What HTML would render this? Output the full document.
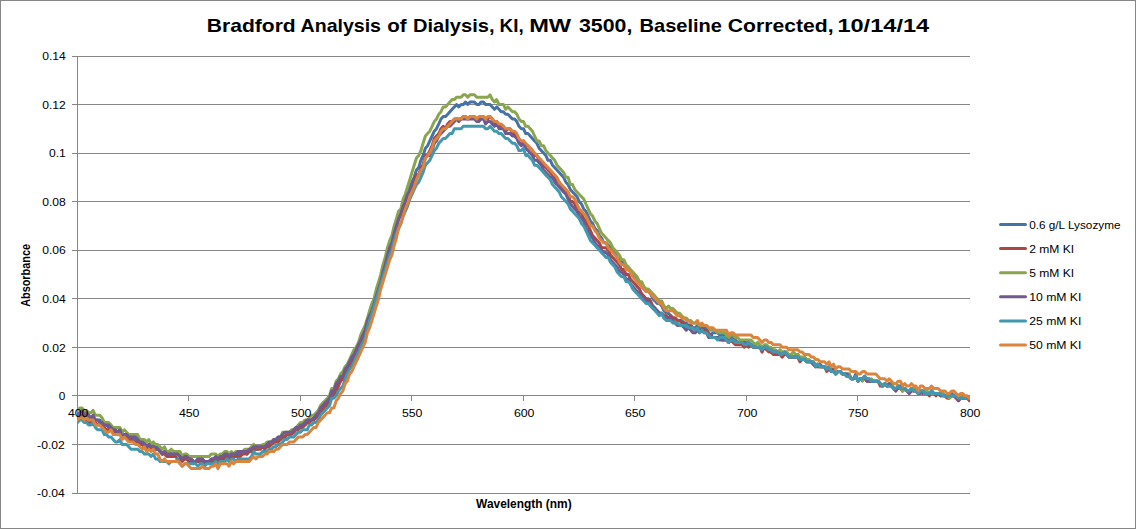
<!DOCTYPE html>
<html lang="en"><head><meta charset="utf-8"><title>Bradford Analysis of Dialysis, KI, MW 3500, Baseline Corrected, 10/14/14</title><style>html,body{margin:0;padding:0;background:#fff;overflow:hidden}svg{display:block}</style></head><body>
<svg width="1137" height="529" viewBox="0 0 1137 529">
<defs><clipPath id="plot"><rect x="77" y="40" width="893" height="470"/></clipPath></defs>
<rect x="0" y="0" width="1137" height="529" fill="#fff"/>
<rect x="0.5" y="0.5" width="1135" height="528" fill="none" stroke="#868686" stroke-width="1"/>
<rect x="1136" y="0" width="1" height="529" fill="#fff"/>
<g stroke="#868686" stroke-width="1" shape-rendering="crispEdges">
<line x1="72" y1="56.5" x2="970" y2="56.5"/>
<line x1="72" y1="104.5" x2="970" y2="104.5"/>
<line x1="72" y1="153.5" x2="970" y2="153.5"/>
<line x1="72" y1="201.5" x2="970" y2="201.5"/>
<line x1="72" y1="250.5" x2="970" y2="250.5"/>
<line x1="72" y1="298.5" x2="970" y2="298.5"/>
<line x1="72" y1="347.5" x2="970" y2="347.5"/>
<line x1="72" y1="395.5" x2="970" y2="395.5"/>
<line x1="72" y1="444.5" x2="970" y2="444.5"/>
<line x1="72" y1="493.5" x2="970" y2="493.5"/>
<line x1="77.5" y1="56" x2="77.5" y2="494"/>
<line x1="77.5" y1="395" x2="77.5" y2="401"/>
<line x1="188.5" y1="395" x2="188.5" y2="401"/>
<line x1="300.5" y1="395" x2="300.5" y2="401"/>
<line x1="411.5" y1="395" x2="411.5" y2="401"/>
<line x1="523.5" y1="395" x2="523.5" y2="401"/>
<line x1="634.5" y1="395" x2="634.5" y2="401"/>
<line x1="746.5" y1="395" x2="746.5" y2="401"/>
<line x1="857.5" y1="395" x2="857.5" y2="401"/>
<line x1="969.5" y1="395" x2="969.5" y2="401"/>
</g>
<g fill="none" stroke-width="3" stroke-linejoin="round" stroke-linecap="round" clip-path="url(#plot)">
<path stroke="#4572A7" d="M77.5,415.2 L79.7,415.2 L82.0,415.2 L84.2,417.7 L86.4,415.2 L88.7,417.7 L90.9,420.1 L93.1,417.7 L95.3,420.1 L97.6,420.1 L99.8,420.1 L102.0,422.5 L104.3,424.9 L106.5,424.9 L108.7,427.4 L111.0,427.4 L113.2,429.8 L115.4,429.8 L117.6,432.2 L119.9,429.8 L122.1,437.1 L124.3,434.6 L126.6,434.6 L128.8,437.1 L131.0,439.5 L133.2,439.5 L135.5,439.5 L137.7,439.5 L139.9,441.9 L142.2,444.4 L144.4,441.9 L146.6,446.8 L148.9,444.4 L151.1,446.8 L153.3,444.4 L155.6,446.8 L157.8,446.8 L160.0,449.2 L162.2,454.1 L164.5,451.6 L166.7,451.6 L168.9,451.6 L171.2,454.1 L173.4,454.1 L175.6,454.1 L177.8,454.1 L180.1,456.5 L182.3,458.9 L184.5,458.9 L186.8,458.9 L189.0,461.4 L191.2,458.9 L193.5,461.4 L195.7,461.4 L197.9,458.9 L200.2,458.9 L202.4,461.4 L204.6,461.4 L206.8,461.4 L209.1,461.4 L211.3,458.9 L213.5,458.9 L215.8,458.9 L218.0,458.9 L220.2,456.5 L222.4,456.5 L224.7,456.5 L226.9,456.5 L229.1,456.5 L231.4,454.1 L233.6,456.5 L235.8,456.5 L238.1,454.1 L240.3,454.1 L242.5,454.1 L244.8,451.6 L247.0,454.1 L249.2,451.6 L251.4,451.6 L253.7,446.8 L255.9,449.2 L258.1,449.2 L260.4,446.8 L262.6,446.8 L264.8,446.8 L267.1,444.4 L269.3,444.4 L271.5,441.9 L273.7,441.9 L276.0,441.9 L278.2,439.5 L280.4,439.5 L282.7,437.1 L284.9,437.1 L287.1,434.6 L289.4,432.2 L291.6,432.2 L293.8,432.2 L296.0,429.8 L298.3,427.4 L300.5,427.4 L302.7,424.9 L305.0,424.9 L307.2,422.5 L309.4,422.5 L311.6,420.1 L313.9,417.7 L316.1,417.7 L318.3,415.2 L320.6,410.4 L322.8,410.4 L325.0,405.5 L327.3,403.1 L329.5,398.2 L331.7,393.4 L333.9,393.4 L336.2,386.1 L338.4,383.7 L340.6,378.8 L342.9,378.8 L345.1,371.5 L347.3,369.1 L349.6,364.2 L351.8,359.4 L354.0,354.5 L356.2,349.7 L358.5,347.2 L360.7,342.4 L362.9,337.5 L365.2,330.2 L367.4,323.0 L369.6,318.1 L371.9,310.8 L374.1,303.5 L376.3,298.7 L378.6,289.0 L380.8,281.7 L383.0,274.4 L385.2,264.7 L387.5,257.4 L389.7,250.1 L391.9,242.8 L394.2,235.6 L396.4,228.3 L398.6,218.6 L400.9,213.7 L403.1,206.4 L405.3,201.6 L407.5,194.3 L409.8,187.0 L412.0,182.2 L414.2,177.3 L416.5,170.0 L418.7,167.6 L420.9,160.3 L423.1,155.4 L425.4,148.2 L427.6,145.7 L429.8,140.9 L432.1,136.0 L434.3,131.2 L436.5,128.7 L438.8,123.9 L441.0,119.0 L443.2,116.6 L445.4,116.6 L447.7,114.2 L449.9,111.7 L452.1,109.3 L454.4,106.9 L456.6,104.5 L458.8,106.9 L461.1,104.5 L463.3,104.5 L465.5,102.0 L467.8,104.5 L470.0,102.0 L472.2,102.0 L474.4,102.0 L476.7,104.5 L478.9,104.5 L481.1,102.0 L483.4,102.0 L485.6,104.5 L487.8,104.5 L490.1,104.5 L492.3,106.9 L494.5,109.3 L496.7,106.9 L499.0,109.3 L501.2,111.7 L503.4,111.7 L505.7,114.2 L507.9,114.2 L510.1,116.6 L512.4,119.0 L514.6,119.0 L516.8,121.5 L519.0,126.3 L521.3,128.7 L523.5,128.7 L525.7,133.6 L528.0,133.6 L530.2,136.0 L532.4,138.5 L534.6,140.9 L536.9,143.3 L539.1,148.2 L541.3,150.6 L543.6,153.0 L545.8,155.4 L548.0,160.3 L550.3,160.3 L552.5,165.2 L554.7,167.6 L557.0,170.0 L559.2,172.4 L561.4,174.9 L563.6,177.3 L565.9,182.2 L568.1,184.6 L570.3,189.4 L572.6,191.9 L574.8,194.3 L577.0,196.7 L579.2,201.6 L581.5,204.0 L583.7,208.9 L585.9,211.3 L588.2,216.1 L590.4,221.0 L592.6,223.4 L594.9,228.3 L597.1,230.7 L599.3,235.6 L601.5,238.0 L603.8,242.8 L606.0,242.8 L608.2,245.3 L610.5,247.7 L612.7,250.1 L614.9,252.6 L617.2,257.4 L619.4,259.8 L621.6,262.3 L623.9,262.3 L626.1,269.6 L628.3,269.6 L630.5,272.0 L632.8,274.4 L635.0,276.8 L637.2,281.7 L639.5,284.1 L641.7,286.5 L643.9,289.0 L646.1,291.4 L648.4,291.4 L650.6,293.8 L652.8,298.7 L655.1,301.1 L657.3,303.5 L659.5,303.5 L661.8,306.0 L664.0,310.8 L666.2,313.3 L668.5,313.3 L670.7,315.7 L672.9,318.1 L675.1,318.1 L677.4,320.5 L679.6,320.5 L681.8,320.5 L684.1,323.0 L686.3,323.0 L688.5,325.4 L690.8,325.4 L693.0,327.8 L695.2,327.8 L697.4,325.4 L699.7,330.2 L701.9,327.8 L704.1,327.8 L706.4,327.8 L708.6,332.7 L710.8,335.1 L713.0,332.7 L715.3,332.7 L717.5,332.7 L719.7,335.1 L722.0,335.1 L724.2,335.1 L726.4,335.1 L728.7,340.0 L730.9,337.5 L733.1,337.5 L735.4,340.0 L737.6,342.4 L739.8,342.4 L742.0,342.4 L744.3,342.4 L746.5,342.4 L748.7,342.4 L751.0,344.8 L753.2,344.8 L755.4,347.2 L757.6,347.2 L759.9,347.2 L762.1,349.7 L764.3,347.2 L766.6,347.2 L768.8,349.7 L771.0,349.7 L773.3,352.1 L775.5,352.1 L777.7,352.1 L780.0,352.1 L782.2,357.0 L784.4,352.1 L786.6,352.1 L788.9,357.0 L791.1,357.0 L793.3,357.0 L795.6,357.0 L797.8,354.5 L800.0,359.4 L802.2,359.4 L804.5,357.0 L806.7,361.8 L808.9,361.8 L811.2,361.8 L813.4,364.2 L815.6,364.2 L817.9,366.7 L820.1,364.2 L822.3,366.7 L824.5,366.7 L826.8,369.1 L829.0,366.7 L831.2,369.1 L833.5,369.1 L835.7,373.9 L837.9,371.5 L840.2,371.5 L842.4,373.9 L844.6,373.9 L846.9,373.9 L849.1,373.9 L851.3,378.8 L853.5,378.8 L855.8,373.9 L858.0,381.2 L860.2,378.8 L862.5,378.8 L864.7,376.4 L866.9,378.8 L869.1,378.8 L871.4,381.2 L873.6,381.2 L875.8,381.2 L878.1,381.2 L880.3,383.7 L882.5,386.1 L884.8,383.7 L887.0,386.1 L889.2,383.7 L891.5,383.7 L893.7,388.5 L895.9,388.5 L898.1,388.5 L900.4,386.1 L902.6,390.9 L904.8,388.5 L907.1,390.9 L909.3,390.9 L911.5,388.5 L913.8,388.5 L916.0,390.9 L918.2,393.4 L920.4,390.9 L922.7,390.9 L924.9,393.4 L927.1,393.4 L929.4,393.4 L931.6,390.9 L933.8,393.4 L936.0,393.4 L938.3,393.4 L940.5,393.4 L942.7,393.4 L945.0,395.8 L947.2,395.8 L949.4,395.8 L951.7,395.8 L953.9,395.8 L956.1,395.8 L958.4,398.2 L960.6,395.8 L962.8,398.2 L965.0,398.2 L967.3,398.2 L969.5,398.2"/>
<path stroke="#AA4643" d="M77.5,420.1 L79.7,417.7 L82.0,417.7 L84.2,420.1 L86.4,417.7 L88.7,422.5 L90.9,422.5 L93.1,420.1 L95.3,422.5 L97.6,424.9 L99.8,424.9 L102.0,424.9 L104.3,427.4 L106.5,429.8 L108.7,429.8 L111.0,429.8 L113.2,432.2 L115.4,432.2 L117.6,434.6 L119.9,432.2 L122.1,437.1 L124.3,437.1 L126.6,437.1 L128.8,439.5 L131.0,439.5 L133.2,441.9 L135.5,441.9 L137.7,441.9 L139.9,444.4 L142.2,444.4 L144.4,446.8 L146.6,449.2 L148.9,446.8 L151.1,449.2 L153.3,446.8 L155.6,449.2 L157.8,449.2 L160.0,451.6 L162.2,454.1 L164.5,454.1 L166.7,456.5 L168.9,456.5 L171.2,456.5 L173.4,456.5 L175.6,456.5 L177.8,458.9 L180.1,458.9 L182.3,461.4 L184.5,458.9 L186.8,458.9 L189.0,461.4 L191.2,461.4 L193.5,461.4 L195.7,461.4 L197.9,461.4 L200.2,461.4 L202.4,461.4 L204.6,463.8 L206.8,461.4 L209.1,461.4 L211.3,461.4 L213.5,461.4 L215.8,458.9 L218.0,461.4 L220.2,458.9 L222.4,458.9 L224.7,458.9 L226.9,456.5 L229.1,458.9 L231.4,456.5 L233.6,456.5 L235.8,456.5 L238.1,456.5 L240.3,456.5 L242.5,454.1 L244.8,454.1 L247.0,454.1 L249.2,451.6 L251.4,451.6 L253.7,449.2 L255.9,449.2 L258.1,449.2 L260.4,449.2 L262.6,446.8 L264.8,449.2 L267.1,446.8 L269.3,446.8 L271.5,444.4 L273.7,441.9 L276.0,441.9 L278.2,441.9 L280.4,439.5 L282.7,437.1 L284.9,437.1 L287.1,434.6 L289.4,434.6 L291.6,434.6 L293.8,432.2 L296.0,429.8 L298.3,429.8 L300.5,427.4 L302.7,427.4 L305.0,424.9 L307.2,422.5 L309.4,422.5 L311.6,420.1 L313.9,420.1 L316.1,417.7 L318.3,415.2 L320.6,410.4 L322.8,410.4 L325.0,405.5 L327.3,405.5 L329.5,400.7 L331.7,398.2 L333.9,395.8 L336.2,390.9 L338.4,386.1 L340.6,381.2 L342.9,378.8 L345.1,373.9 L347.3,369.1 L349.6,366.7 L351.8,361.8 L354.0,359.4 L356.2,354.5 L358.5,349.7 L360.7,344.8 L362.9,340.0 L365.2,332.7 L367.4,325.4 L369.6,318.1 L371.9,310.8 L374.1,303.5 L376.3,298.7 L378.6,289.0 L380.8,281.7 L383.0,274.4 L385.2,264.7 L387.5,257.4 L389.7,250.1 L391.9,245.3 L394.2,235.6 L396.4,225.9 L398.6,218.6 L400.9,216.1 L403.1,208.9 L405.3,201.6 L407.5,194.3 L409.8,191.9 L412.0,187.0 L414.2,179.7 L416.5,174.9 L418.7,174.9 L420.9,167.6 L423.1,165.2 L425.4,155.4 L427.6,155.4 L429.8,150.6 L432.1,145.7 L434.3,138.5 L436.5,136.0 L438.8,133.6 L441.0,128.7 L443.2,126.3 L445.4,128.7 L447.7,123.9 L449.9,121.5 L452.1,121.5 L454.4,119.0 L456.6,119.0 L458.8,119.0 L461.1,119.0 L463.3,116.6 L465.5,116.6 L467.8,119.0 L470.0,116.6 L472.2,116.6 L474.4,116.6 L476.7,119.0 L478.9,119.0 L481.1,119.0 L483.4,116.6 L485.6,119.0 L487.8,119.0 L490.1,116.6 L492.3,119.0 L494.5,123.9 L496.7,121.5 L499.0,126.3 L501.2,126.3 L503.4,126.3 L505.7,131.2 L507.9,128.7 L510.1,128.7 L512.4,133.6 L514.6,133.6 L516.8,136.0 L519.0,140.9 L521.3,143.3 L523.5,140.9 L525.7,145.7 L528.0,145.7 L530.2,148.2 L532.4,150.6 L534.6,155.4 L536.9,155.4 L539.1,160.3 L541.3,162.7 L543.6,165.2 L545.8,167.6 L548.0,170.0 L550.3,172.4 L552.5,174.9 L554.7,177.3 L557.0,182.2 L559.2,182.2 L561.4,187.0 L563.6,189.4 L565.9,191.9 L568.1,194.3 L570.3,201.6 L572.6,201.6 L574.8,204.0 L577.0,208.9 L579.2,211.3 L581.5,213.7 L583.7,218.6 L585.9,221.0 L588.2,225.9 L590.4,230.7 L592.6,235.6 L594.9,238.0 L597.1,240.4 L599.3,242.8 L601.5,247.7 L603.8,247.7 L606.0,247.7 L608.2,250.1 L610.5,255.0 L612.7,257.4 L614.9,259.8 L617.2,262.3 L619.4,264.7 L621.6,269.6 L623.9,269.6 L626.1,274.4 L628.3,274.4 L630.5,279.3 L632.8,281.7 L635.0,284.1 L637.2,286.5 L639.5,289.0 L641.7,293.8 L643.9,296.3 L646.1,298.7 L648.4,298.7 L650.6,301.1 L652.8,306.0 L655.1,308.4 L657.3,310.8 L659.5,313.3 L661.8,313.3 L664.0,315.7 L666.2,315.7 L668.5,318.1 L670.7,315.7 L672.9,318.1 L675.1,318.1 L677.4,320.5 L679.6,320.5 L681.8,323.0 L684.1,323.0 L686.3,325.4 L688.5,327.8 L690.8,325.4 L693.0,327.8 L695.2,330.2 L697.4,327.8 L699.7,330.2 L701.9,330.2 L704.1,330.2 L706.4,330.2 L708.6,335.1 L710.8,335.1 L713.0,337.5 L715.3,337.5 L717.5,337.5 L719.7,337.5 L722.0,340.0 L724.2,340.0 L726.4,340.0 L728.7,342.4 L730.9,340.0 L733.1,342.4 L735.4,344.8 L737.6,344.8 L739.8,344.8 L742.0,344.8 L744.3,347.2 L746.5,344.8 L748.7,347.2 L751.0,344.8 L753.2,347.2 L755.4,347.2 L757.6,347.2 L759.9,347.2 L762.1,352.1 L764.3,347.2 L766.6,349.7 L768.8,352.1 L771.0,352.1 L773.3,354.5 L775.5,354.5 L777.7,354.5 L780.0,354.5 L782.2,357.0 L784.4,354.5 L786.6,354.5 L788.9,357.0 L791.1,357.0 L793.3,357.0 L795.6,357.0 L797.8,357.0 L800.0,361.8 L802.2,359.4 L804.5,359.4 L806.7,361.8 L808.9,361.8 L811.2,361.8 L813.4,364.2 L815.6,366.7 L817.9,366.7 L820.1,366.7 L822.3,366.7 L824.5,366.7 L826.8,371.5 L829.0,369.1 L831.2,369.1 L833.5,371.5 L835.7,373.9 L837.9,371.5 L840.2,371.5 L842.4,373.9 L844.6,373.9 L846.9,376.4 L849.1,376.4 L851.3,378.8 L853.5,378.8 L855.8,376.4 L858.0,381.2 L860.2,378.8 L862.5,378.8 L864.7,378.8 L866.9,381.2 L869.1,381.2 L871.4,381.2 L873.6,381.2 L875.8,381.2 L878.1,381.2 L880.3,386.1 L882.5,386.1 L884.8,383.7 L887.0,386.1 L889.2,386.1 L891.5,386.1 L893.7,388.5 L895.9,390.9 L898.1,386.1 L900.4,388.5 L902.6,390.9 L904.8,388.5 L907.1,390.9 L909.3,393.4 L911.5,388.5 L913.8,390.9 L916.0,390.9 L918.2,393.4 L920.4,390.9 L922.7,393.4 L924.9,390.9 L927.1,393.4 L929.4,395.8 L931.6,390.9 L933.8,393.4 L936.0,395.8 L938.3,393.4 L940.5,395.8 L942.7,395.8 L945.0,395.8 L947.2,398.2 L949.4,398.2 L951.7,395.8 L953.9,395.8 L956.1,398.2 L958.4,400.7 L960.6,398.2 L962.8,398.2 L965.0,398.2 L967.3,398.2 L969.5,400.7"/>
<path stroke="#89A54E" d="M77.5,410.4 L79.7,407.9 L82.0,407.9 L84.2,410.4 L86.4,410.4 L88.7,412.8 L90.9,412.8 L93.1,410.4 L95.3,415.2 L97.6,415.2 L99.8,415.2 L102.0,417.7 L104.3,422.5 L106.5,422.5 L108.7,422.5 L111.0,424.9 L113.2,427.4 L115.4,427.4 L117.6,427.4 L119.9,427.4 L122.1,432.2 L124.3,429.8 L126.6,432.2 L128.8,434.6 L131.0,434.6 L133.2,434.6 L135.5,434.6 L137.7,434.6 L139.9,439.5 L142.2,439.5 L144.4,439.5 L146.6,441.9 L148.9,439.5 L151.1,444.4 L153.3,441.9 L155.6,444.4 L157.8,444.4 L160.0,446.8 L162.2,449.2 L164.5,446.8 L166.7,451.6 L168.9,451.6 L171.2,449.2 L173.4,451.6 L175.6,451.6 L177.8,451.6 L180.1,451.6 L182.3,456.5 L184.5,454.1 L186.8,454.1 L189.0,456.5 L191.2,456.5 L193.5,456.5 L195.7,456.5 L197.9,456.5 L200.2,456.5 L202.4,456.5 L204.6,456.5 L206.8,456.5 L209.1,456.5 L211.3,454.1 L213.5,454.1 L215.8,454.1 L218.0,456.5 L220.2,454.1 L222.4,454.1 L224.7,451.6 L226.9,451.6 L229.1,454.1 L231.4,451.6 L233.6,454.1 L235.8,451.6 L238.1,451.6 L240.3,451.6 L242.5,451.6 L244.8,449.2 L247.0,449.2 L249.2,449.2 L251.4,446.8 L253.7,444.4 L255.9,446.8 L258.1,446.8 L260.4,446.8 L262.6,444.4 L264.8,444.4 L267.1,441.9 L269.3,441.9 L271.5,441.9 L273.7,439.5 L276.0,439.5 L278.2,437.1 L280.4,437.1 L282.7,432.2 L284.9,432.2 L287.1,432.2 L289.4,432.2 L291.6,429.8 L293.8,429.8 L296.0,427.4 L298.3,424.9 L300.5,422.5 L302.7,422.5 L305.0,420.1 L307.2,420.1 L309.4,417.7 L311.6,415.2 L313.9,415.2 L316.1,412.8 L318.3,410.4 L320.6,405.5 L322.8,403.1 L325.0,400.7 L327.3,398.2 L329.5,395.8 L331.7,388.5 L333.9,388.5 L336.2,381.2 L338.4,378.8 L340.6,373.9 L342.9,371.5 L345.1,366.7 L347.3,364.2 L349.6,359.4 L351.8,354.5 L354.0,349.7 L356.2,347.2 L358.5,342.4 L360.7,335.1 L362.9,330.2 L365.2,325.4 L367.4,318.1 L369.6,310.8 L371.9,303.5 L374.1,298.7 L376.3,289.0 L378.6,281.7 L380.8,274.4 L383.0,264.7 L385.2,257.4 L387.5,247.7 L389.7,240.4 L391.9,235.6 L394.2,225.9 L396.4,218.6 L398.6,211.3 L400.9,208.9 L403.1,199.1 L405.3,194.3 L407.5,187.0 L409.8,179.7 L412.0,172.4 L414.2,165.2 L416.5,157.9 L418.7,155.4 L420.9,150.6 L423.1,143.3 L425.4,136.0 L427.6,133.6 L429.8,131.2 L432.1,126.3 L434.3,121.5 L436.5,119.0 L438.8,114.2 L441.0,111.7 L443.2,106.9 L445.4,106.9 L447.7,104.5 L449.9,102.0 L452.1,99.6 L454.4,99.6 L456.6,97.2 L458.8,97.2 L461.1,97.2 L463.3,94.8 L465.5,94.8 L467.8,97.2 L470.0,94.8 L472.2,94.8 L474.4,94.8 L476.7,97.2 L478.9,97.2 L481.1,97.2 L483.4,97.2 L485.6,97.2 L487.8,97.2 L490.1,94.8 L492.3,99.6 L494.5,102.0 L496.7,99.6 L499.0,104.5 L501.2,104.5 L503.4,104.5 L505.7,109.3 L507.9,106.9 L510.1,109.3 L512.4,111.7 L514.6,111.7 L516.8,114.2 L519.0,119.0 L521.3,121.5 L523.5,121.5 L525.7,126.3 L528.0,126.3 L530.2,128.7 L532.4,131.2 L534.6,136.0 L536.9,140.9 L539.1,140.9 L541.3,145.7 L543.6,145.7 L545.8,150.6 L548.0,153.0 L550.3,155.4 L552.5,157.9 L554.7,160.3 L557.0,165.2 L559.2,167.6 L561.4,170.0 L563.6,172.4 L565.9,177.3 L568.1,177.3 L570.3,184.6 L572.6,184.6 L574.8,189.4 L577.0,191.9 L579.2,194.3 L581.5,196.7 L583.7,199.1 L585.9,204.0 L588.2,208.9 L590.4,213.7 L592.6,216.1 L594.9,221.0 L597.1,223.4 L599.3,228.3 L601.5,233.1 L603.8,235.6 L606.0,238.0 L608.2,240.4 L610.5,242.8 L612.7,247.7 L614.9,250.1 L617.2,252.6 L619.4,255.0 L621.6,259.8 L623.9,259.8 L626.1,264.7 L628.3,267.1 L630.5,269.6 L632.8,272.0 L635.0,274.4 L637.2,276.8 L639.5,281.7 L641.7,281.7 L643.9,286.5 L646.1,289.0 L648.4,289.0 L650.6,291.4 L652.8,293.8 L655.1,296.3 L657.3,298.7 L659.5,301.1 L661.8,301.1 L664.0,306.0 L666.2,308.4 L668.5,306.0 L670.7,308.4 L672.9,308.4 L675.1,310.8 L677.4,313.3 L679.6,313.3 L681.8,315.7 L684.1,318.1 L686.3,318.1 L688.5,320.5 L690.8,320.5 L693.0,323.0 L695.2,323.0 L697.4,323.0 L699.7,325.4 L701.9,325.4 L704.1,325.4 L706.4,325.4 L708.6,327.8 L710.8,330.2 L713.0,330.2 L715.3,330.2 L717.5,332.7 L719.7,332.7 L722.0,332.7 L724.2,332.7 L726.4,335.1 L728.7,337.5 L730.9,335.1 L733.1,335.1 L735.4,337.5 L737.6,337.5 L739.8,340.0 L742.0,340.0 L744.3,340.0 L746.5,340.0 L748.7,340.0 L751.0,340.0 L753.2,342.4 L755.4,344.8 L757.6,342.4 L759.9,344.8 L762.1,347.2 L764.3,344.8 L766.6,344.8 L768.8,347.2 L771.0,347.2 L773.3,349.7 L775.5,349.7 L777.7,352.1 L780.0,349.7 L782.2,352.1 L784.4,352.1 L786.6,352.1 L788.9,354.5 L791.1,354.5 L793.3,352.1 L795.6,354.5 L797.8,354.5 L800.0,357.0 L802.2,357.0 L804.5,357.0 L806.7,359.4 L808.9,359.4 L811.2,361.8 L813.4,361.8 L815.6,364.2 L817.9,364.2 L820.1,366.7 L822.3,366.7 L824.5,366.7 L826.8,369.1 L829.0,366.7 L831.2,371.5 L833.5,371.5 L835.7,373.9 L837.9,371.5 L840.2,371.5 L842.4,373.9 L844.6,373.9 L846.9,373.9 L849.1,373.9 L851.3,378.8 L853.5,378.8 L855.8,376.4 L858.0,381.2 L860.2,378.8 L862.5,381.2 L864.7,376.4 L866.9,378.8 L869.1,381.2 L871.4,378.8 L873.6,381.2 L875.8,381.2 L878.1,381.2 L880.3,383.7 L882.5,386.1 L884.8,383.7 L887.0,386.1 L889.2,383.7 L891.5,383.7 L893.7,388.5 L895.9,388.5 L898.1,386.1 L900.4,388.5 L902.6,390.9 L904.8,388.5 L907.1,390.9 L909.3,390.9 L911.5,388.5 L913.8,388.5 L916.0,388.5 L918.2,393.4 L920.4,390.9 L922.7,390.9 L924.9,390.9 L927.1,390.9 L929.4,393.4 L931.6,390.9 L933.8,393.4 L936.0,393.4 L938.3,393.4 L940.5,395.8 L942.7,393.4 L945.0,395.8 L947.2,395.8 L949.4,398.2 L951.7,395.8 L953.9,395.8 L956.1,395.8 L958.4,398.2 L960.6,395.8 L962.8,398.2 L965.0,398.2 L967.3,398.2 L969.5,398.2"/>
<path stroke="#71588F" d="M77.5,415.2 L79.7,412.8 L82.0,410.4 L84.2,415.2 L86.4,412.8 L88.7,415.2 L90.9,417.7 L93.1,415.2 L95.3,420.1 L97.6,420.1 L99.8,422.5 L102.0,422.5 L104.3,424.9 L106.5,424.9 L108.7,424.9 L111.0,427.4 L113.2,429.8 L115.4,429.8 L117.6,432.2 L119.9,429.8 L122.1,437.1 L124.3,434.6 L126.6,434.6 L128.8,437.1 L131.0,437.1 L133.2,437.1 L135.5,437.1 L137.7,439.5 L139.9,441.9 L142.2,441.9 L144.4,444.4 L146.6,446.8 L148.9,444.4 L151.1,446.8 L153.3,446.8 L155.6,449.2 L157.8,449.2 L160.0,451.6 L162.2,454.1 L164.5,451.6 L166.7,454.1 L168.9,454.1 L171.2,454.1 L173.4,454.1 L175.6,454.1 L177.8,454.1 L180.1,456.5 L182.3,458.9 L184.5,456.5 L186.8,456.5 L189.0,458.9 L191.2,458.9 L193.5,461.4 L195.7,461.4 L197.9,458.9 L200.2,458.9 L202.4,458.9 L204.6,461.4 L206.8,461.4 L209.1,461.4 L211.3,458.9 L213.5,458.9 L215.8,456.5 L218.0,458.9 L220.2,456.5 L222.4,456.5 L224.7,454.1 L226.9,454.1 L229.1,456.5 L231.4,454.1 L233.6,454.1 L235.8,454.1 L238.1,451.6 L240.3,451.6 L242.5,451.6 L244.8,451.6 L247.0,451.6 L249.2,449.2 L251.4,449.2 L253.7,446.8 L255.9,446.8 L258.1,446.8 L260.4,446.8 L262.6,446.8 L264.8,446.8 L267.1,444.4 L269.3,441.9 L271.5,441.9 L273.7,439.5 L276.0,439.5 L278.2,437.1 L280.4,437.1 L282.7,434.6 L284.9,432.2 L287.1,432.2 L289.4,432.2 L291.6,432.2 L293.8,429.8 L296.0,427.4 L298.3,427.4 L300.5,424.9 L302.7,424.9 L305.0,422.5 L307.2,420.1 L309.4,420.1 L311.6,420.1 L313.9,417.7 L316.1,415.2 L318.3,412.8 L320.6,407.9 L322.8,405.5 L325.0,403.1 L327.3,400.7 L329.5,398.2 L331.7,390.9 L333.9,390.9 L336.2,383.7 L338.4,381.2 L340.6,376.4 L342.9,376.4 L345.1,369.1 L347.3,366.7 L349.6,361.8 L351.8,357.0 L354.0,354.5 L356.2,349.7 L358.5,344.8 L360.7,340.0 L362.9,335.1 L365.2,330.2 L367.4,320.5 L369.6,315.7 L371.9,310.8 L374.1,303.5 L376.3,296.3 L378.6,289.0 L380.8,281.7 L383.0,272.0 L385.2,264.7 L387.5,255.0 L389.7,247.7 L391.9,242.8 L394.2,233.1 L396.4,225.9 L398.6,218.6 L400.9,213.7 L403.1,206.4 L405.3,201.6 L407.5,194.3 L409.8,191.9 L412.0,184.6 L414.2,182.2 L416.5,177.3 L418.7,174.9 L420.9,170.0 L423.1,165.2 L425.4,157.9 L427.6,155.4 L429.8,155.4 L432.1,150.6 L434.3,143.3 L436.5,140.9 L438.8,136.0 L441.0,133.6 L443.2,131.2 L445.4,128.7 L447.7,126.3 L449.9,126.3 L452.1,123.9 L454.4,121.5 L456.6,119.0 L458.8,121.5 L461.1,119.0 L463.3,119.0 L465.5,119.0 L467.8,119.0 L470.0,119.0 L472.2,119.0 L474.4,119.0 L476.7,121.5 L478.9,121.5 L481.1,119.0 L483.4,119.0 L485.6,123.9 L487.8,121.5 L490.1,121.5 L492.3,123.9 L494.5,126.3 L496.7,123.9 L499.0,128.7 L501.2,128.7 L503.4,128.7 L505.7,133.6 L507.9,133.6 L510.1,133.6 L512.4,136.0 L514.6,136.0 L516.8,138.5 L519.0,143.3 L521.3,145.7 L523.5,143.3 L525.7,148.2 L528.0,150.6 L530.2,153.0 L532.4,155.4 L534.6,160.3 L536.9,160.3 L539.1,162.7 L541.3,165.2 L543.6,170.0 L545.8,172.4 L548.0,174.9 L550.3,177.3 L552.5,177.3 L554.7,182.2 L557.0,184.6 L559.2,187.0 L561.4,189.4 L563.6,191.9 L565.9,194.3 L568.1,199.1 L570.3,204.0 L572.6,206.4 L574.8,208.9 L577.0,211.3 L579.2,216.1 L581.5,218.6 L583.7,221.0 L585.9,228.3 L588.2,230.7 L590.4,235.6 L592.6,238.0 L594.9,242.8 L597.1,245.3 L599.3,247.7 L601.5,250.1 L603.8,252.6 L606.0,252.6 L608.2,255.0 L610.5,259.8 L612.7,262.3 L614.9,264.7 L617.2,267.1 L619.4,272.0 L621.6,272.0 L623.9,274.4 L626.1,279.3 L628.3,279.3 L630.5,284.1 L632.8,286.5 L635.0,289.0 L637.2,291.4 L639.5,293.8 L641.7,296.3 L643.9,298.7 L646.1,301.1 L648.4,301.1 L650.6,306.0 L652.8,306.0 L655.1,308.4 L657.3,310.8 L659.5,313.3 L661.8,313.3 L664.0,318.1 L666.2,318.1 L668.5,318.1 L670.7,318.1 L672.9,320.5 L675.1,323.0 L677.4,325.4 L679.6,325.4 L681.8,325.4 L684.1,327.8 L686.3,330.2 L688.5,327.8 L690.8,330.2 L693.0,332.7 L695.2,332.7 L697.4,330.2 L699.7,332.7 L701.9,330.2 L704.1,332.7 L706.4,332.7 L708.6,337.5 L710.8,337.5 L713.0,337.5 L715.3,337.5 L717.5,337.5 L719.7,340.0 L722.0,340.0 L724.2,340.0 L726.4,340.0 L728.7,342.4 L730.9,340.0 L733.1,340.0 L735.4,342.4 L737.6,342.4 L739.8,342.4 L742.0,342.4 L744.3,342.4 L746.5,344.8 L748.7,344.8 L751.0,344.8 L753.2,347.2 L755.4,347.2 L757.6,347.2 L759.9,347.2 L762.1,349.7 L764.3,347.2 L766.6,347.2 L768.8,349.7 L771.0,349.7 L773.3,352.1 L775.5,352.1 L777.7,352.1 L780.0,354.5 L782.2,354.5 L784.4,352.1 L786.6,354.5 L788.9,357.0 L791.1,357.0 L793.3,357.0 L795.6,357.0 L797.8,357.0 L800.0,359.4 L802.2,359.4 L804.5,359.4 L806.7,361.8 L808.9,361.8 L811.2,361.8 L813.4,364.2 L815.6,366.7 L817.9,364.2 L820.1,366.7 L822.3,366.7 L824.5,366.7 L826.8,369.1 L829.0,369.1 L831.2,371.5 L833.5,371.5 L835.7,373.9 L837.9,371.5 L840.2,371.5 L842.4,373.9 L844.6,373.9 L846.9,373.9 L849.1,376.4 L851.3,378.8 L853.5,378.8 L855.8,376.4 L858.0,381.2 L860.2,378.8 L862.5,378.8 L864.7,376.4 L866.9,381.2 L869.1,381.2 L871.4,381.2 L873.6,381.2 L875.8,381.2 L878.1,381.2 L880.3,383.7 L882.5,386.1 L884.8,383.7 L887.0,386.1 L889.2,383.7 L891.5,386.1 L893.7,388.5 L895.9,390.9 L898.1,386.1 L900.4,386.1 L902.6,388.5 L904.8,388.5 L907.1,390.9 L909.3,393.4 L911.5,390.9 L913.8,390.9 L916.0,390.9 L918.2,393.4 L920.4,393.4 L922.7,390.9 L924.9,393.4 L927.1,393.4 L929.4,393.4 L931.6,390.9 L933.8,393.4 L936.0,393.4 L938.3,393.4 L940.5,395.8 L942.7,395.8 L945.0,395.8 L947.2,395.8 L949.4,395.8 L951.7,393.4 L953.9,395.8 L956.1,395.8 L958.4,400.7 L960.6,398.2 L962.8,398.2 L965.0,398.2 L967.3,398.2 L969.5,398.2"/>
<path stroke="#4198AF" d="M77.5,422.5 L79.7,420.1 L82.0,420.1 L84.2,422.5 L86.4,422.5 L88.7,424.9 L90.9,424.9 L93.1,422.5 L95.3,427.4 L97.6,429.8 L99.8,429.8 L102.0,429.8 L104.3,434.6 L106.5,434.6 L108.7,437.1 L111.0,437.1 L113.2,439.5 L115.4,441.9 L117.6,441.9 L119.9,439.5 L122.1,444.4 L124.3,444.4 L126.6,444.4 L128.8,446.8 L131.0,449.2 L133.2,449.2 L135.5,449.2 L137.7,449.2 L139.9,451.6 L142.2,451.6 L144.4,454.1 L146.6,454.1 L148.9,454.1 L151.1,456.5 L153.3,454.1 L155.6,458.9 L157.8,458.9 L160.0,461.4 L162.2,461.4 L164.5,461.4 L166.7,461.4 L168.9,463.8 L171.2,461.4 L173.4,461.4 L175.6,461.4 L177.8,458.9 L180.1,463.8 L182.3,466.2 L184.5,463.8 L186.8,463.8 L189.0,463.8 L191.2,463.8 L193.5,463.8 L195.7,463.8 L197.9,466.2 L200.2,463.8 L202.4,463.8 L204.6,466.2 L206.8,463.8 L209.1,463.8 L211.3,463.8 L213.5,463.8 L215.8,461.4 L218.0,463.8 L220.2,461.4 L222.4,461.4 L224.7,461.4 L226.9,458.9 L229.1,461.4 L231.4,458.9 L233.6,458.9 L235.8,461.4 L238.1,458.9 L240.3,458.9 L242.5,458.9 L244.8,458.9 L247.0,458.9 L249.2,458.9 L251.4,456.5 L253.7,451.6 L255.9,454.1 L258.1,454.1 L260.4,454.1 L262.6,451.6 L264.8,451.6 L267.1,451.6 L269.3,449.2 L271.5,449.2 L273.7,446.8 L276.0,446.8 L278.2,444.4 L280.4,444.4 L282.7,441.9 L284.9,439.5 L287.1,439.5 L289.4,437.1 L291.6,437.1 L293.8,437.1 L296.0,434.6 L298.3,432.2 L300.5,432.2 L302.7,429.8 L305.0,429.8 L307.2,429.8 L309.4,424.9 L311.6,424.9 L313.9,422.5 L316.1,422.5 L318.3,420.1 L320.6,415.2 L322.8,412.8 L325.0,410.4 L327.3,407.9 L329.5,405.5 L331.7,398.2 L333.9,398.2 L336.2,395.8 L338.4,390.9 L340.6,388.5 L342.9,386.1 L345.1,378.8 L347.3,373.9 L349.6,369.1 L351.8,366.7 L354.0,361.8 L356.2,357.0 L358.5,352.1 L360.7,347.2 L362.9,342.4 L365.2,337.5 L367.4,327.8 L369.6,320.5 L371.9,313.3 L374.1,306.0 L376.3,298.7 L378.6,291.4 L380.8,284.1 L383.0,276.8 L385.2,269.6 L387.5,262.3 L389.7,255.0 L391.9,250.1 L394.2,240.4 L396.4,233.1 L398.6,228.3 L400.9,223.4 L403.1,216.1 L405.3,211.3 L407.5,206.4 L409.8,199.1 L412.0,194.3 L414.2,189.4 L416.5,184.6 L418.7,182.2 L420.9,177.3 L423.1,172.4 L425.4,165.2 L427.6,162.7 L429.8,160.3 L432.1,155.4 L434.3,150.6 L436.5,148.2 L438.8,143.3 L441.0,140.9 L443.2,138.5 L445.4,138.5 L447.7,136.0 L449.9,133.6 L452.1,133.6 L454.4,128.7 L456.6,128.7 L458.8,128.7 L461.1,128.7 L463.3,126.3 L465.5,126.3 L467.8,126.3 L470.0,126.3 L472.2,126.3 L474.4,126.3 L476.7,126.3 L478.9,126.3 L481.1,126.3 L483.4,126.3 L485.6,128.7 L487.8,128.7 L490.1,126.3 L492.3,128.7 L494.5,131.2 L496.7,131.2 L499.0,133.6 L501.2,133.6 L503.4,136.0 L505.7,138.5 L507.9,138.5 L510.1,140.9 L512.4,143.3 L514.6,143.3 L516.8,145.7 L519.0,150.6 L521.3,150.6 L523.5,148.2 L525.7,155.4 L528.0,155.4 L530.2,157.9 L532.4,160.3 L534.6,165.2 L536.9,165.2 L539.1,167.6 L541.3,170.0 L543.6,172.4 L545.8,174.9 L548.0,177.3 L550.3,179.7 L552.5,184.6 L554.7,187.0 L557.0,189.4 L559.2,191.9 L561.4,196.7 L563.6,199.1 L565.9,201.6 L568.1,204.0 L570.3,208.9 L572.6,211.3 L574.8,213.7 L577.0,216.1 L579.2,218.6 L581.5,223.4 L583.7,225.9 L585.9,230.7 L588.2,235.6 L590.4,240.4 L592.6,242.8 L594.9,245.3 L597.1,247.7 L599.3,250.1 L601.5,252.6 L603.8,255.0 L606.0,257.4 L608.2,257.4 L610.5,262.3 L612.7,264.7 L614.9,267.1 L617.2,272.0 L619.4,274.4 L621.6,276.8 L623.9,276.8 L626.1,281.7 L628.3,281.7 L630.5,284.1 L632.8,289.0 L635.0,291.4 L637.2,293.8 L639.5,296.3 L641.7,298.7 L643.9,301.1 L646.1,303.5 L648.4,303.5 L650.6,306.0 L652.8,308.4 L655.1,310.8 L657.3,313.3 L659.5,315.7 L661.8,313.3 L664.0,318.1 L666.2,320.5 L668.5,320.5 L670.7,320.5 L672.9,323.0 L675.1,323.0 L677.4,323.0 L679.6,325.4 L681.8,325.4 L684.1,325.4 L686.3,325.4 L688.5,327.8 L690.8,327.8 L693.0,327.8 L695.2,330.2 L697.4,327.8 L699.7,332.7 L701.9,330.2 L704.1,332.7 L706.4,332.7 L708.6,335.1 L710.8,337.5 L713.0,337.5 L715.3,337.5 L717.5,340.0 L719.7,337.5 L722.0,337.5 L724.2,337.5 L726.4,340.0 L728.7,342.4 L730.9,340.0 L733.1,340.0 L735.4,342.4 L737.6,342.4 L739.8,342.4 L742.0,342.4 L744.3,344.8 L746.5,344.8 L748.7,342.4 L751.0,344.8 L753.2,347.2 L755.4,347.2 L757.6,347.2 L759.9,347.2 L762.1,349.7 L764.3,347.2 L766.6,347.2 L768.8,349.7 L771.0,349.7 L773.3,352.1 L775.5,352.1 L777.7,352.1 L780.0,354.5 L782.2,354.5 L784.4,352.1 L786.6,354.5 L788.9,357.0 L791.1,357.0 L793.3,357.0 L795.6,357.0 L797.8,357.0 L800.0,359.4 L802.2,359.4 L804.5,359.4 L806.7,361.8 L808.9,361.8 L811.2,361.8 L813.4,361.8 L815.6,366.7 L817.9,364.2 L820.1,366.7 L822.3,366.7 L824.5,366.7 L826.8,369.1 L829.0,366.7 L831.2,371.5 L833.5,371.5 L835.7,373.9 L837.9,371.5 L840.2,371.5 L842.4,373.9 L844.6,373.9 L846.9,376.4 L849.1,376.4 L851.3,378.8 L853.5,378.8 L855.8,376.4 L858.0,381.2 L860.2,378.8 L862.5,378.8 L864.7,376.4 L866.9,378.8 L869.1,378.8 L871.4,381.2 L873.6,381.2 L875.8,381.2 L878.1,381.2 L880.3,383.7 L882.5,386.1 L884.8,383.7 L887.0,386.1 L889.2,386.1 L891.5,386.1 L893.7,388.5 L895.9,388.5 L898.1,386.1 L900.4,388.5 L902.6,388.5 L904.8,388.5 L907.1,390.9 L909.3,390.9 L911.5,388.5 L913.8,390.9 L916.0,390.9 L918.2,393.4 L920.4,390.9 L922.7,390.9 L924.9,393.4 L927.1,393.4 L929.4,393.4 L931.6,390.9 L933.8,393.4 L936.0,393.4 L938.3,393.4 L940.5,393.4 L942.7,395.8 L945.0,395.8 L947.2,395.8 L949.4,395.8 L951.7,395.8 L953.9,395.8 L956.1,395.8 L958.4,398.2 L960.6,398.2 L962.8,398.2 L965.0,398.2 L967.3,398.2 L969.5,398.2"/>
<path stroke="#DB843D" d="M77.5,420.1 L79.7,417.7 L82.0,417.7 L84.2,420.1 L86.4,417.7 L88.7,420.1 L90.9,420.1 L93.1,420.1 L95.3,424.9 L97.6,424.9 L99.8,424.9 L102.0,427.4 L104.3,429.8 L106.5,432.2 L108.7,432.2 L111.0,429.8 L113.2,434.6 L115.4,434.6 L117.6,434.6 L119.9,434.6 L122.1,439.5 L124.3,437.1 L126.6,439.5 L128.8,441.9 L131.0,441.9 L133.2,441.9 L135.5,444.4 L137.7,444.4 L139.9,446.8 L142.2,449.2 L144.4,446.8 L146.6,451.6 L148.9,449.2 L151.1,451.6 L153.3,449.2 L155.6,454.1 L157.8,454.1 L160.0,458.9 L162.2,461.4 L164.5,458.9 L166.7,461.4 L168.9,461.4 L171.2,461.4 L173.4,461.4 L175.6,461.4 L177.8,461.4 L180.1,463.8 L182.3,466.2 L184.5,463.8 L186.8,463.8 L189.0,466.2 L191.2,468.6 L193.5,468.6 L195.7,468.6 L197.9,468.6 L200.2,468.6 L202.4,466.2 L204.6,468.6 L206.8,468.6 L209.1,468.6 L211.3,466.2 L213.5,466.2 L215.8,463.8 L218.0,468.6 L220.2,463.8 L222.4,463.8 L224.7,463.8 L226.9,463.8 L229.1,466.2 L231.4,461.4 L233.6,463.8 L235.8,461.4 L238.1,461.4 L240.3,461.4 L242.5,461.4 L244.8,461.4 L247.0,461.4 L249.2,461.4 L251.4,458.9 L253.7,456.5 L255.9,458.9 L258.1,456.5 L260.4,456.5 L262.6,456.5 L264.8,454.1 L267.1,454.1 L269.3,451.6 L271.5,451.6 L273.7,451.6 L276.0,449.2 L278.2,449.2 L280.4,446.8 L282.7,444.4 L284.9,444.4 L287.1,444.4 L289.4,441.9 L291.6,441.9 L293.8,441.9 L296.0,439.5 L298.3,437.1 L300.5,437.1 L302.7,437.1 L305.0,434.6 L307.2,434.6 L309.4,432.2 L311.6,429.8 L313.9,427.4 L316.1,427.4 L318.3,422.5 L320.6,420.1 L322.8,417.7 L325.0,415.2 L327.3,412.8 L329.5,412.8 L331.7,407.9 L333.9,407.9 L336.2,400.7 L338.4,398.2 L340.6,393.4 L342.9,390.9 L345.1,383.7 L347.3,381.2 L349.6,373.9 L351.8,371.5 L354.0,366.7 L356.2,361.8 L358.5,357.0 L360.7,352.1 L362.9,347.2 L365.2,342.4 L367.4,332.7 L369.6,327.8 L371.9,320.5 L374.1,313.3 L376.3,306.0 L378.6,298.7 L380.8,289.0 L383.0,281.7 L385.2,274.4 L387.5,267.1 L389.7,259.8 L391.9,255.0 L394.2,245.3 L396.4,238.0 L398.6,228.3 L400.9,223.4 L403.1,216.1 L405.3,208.9 L407.5,204.0 L409.8,196.7 L412.0,191.9 L414.2,187.0 L416.5,179.7 L418.7,174.9 L420.9,170.0 L423.1,167.6 L425.4,157.9 L427.6,155.4 L429.8,153.0 L432.1,148.2 L434.3,140.9 L436.5,138.5 L438.8,136.0 L441.0,131.2 L443.2,128.7 L445.4,128.7 L447.7,126.3 L449.9,123.9 L452.1,121.5 L454.4,119.0 L456.6,119.0 L458.8,119.0 L461.1,119.0 L463.3,116.6 L465.5,116.6 L467.8,119.0 L470.0,116.6 L472.2,116.6 L474.4,116.6 L476.7,119.0 L478.9,116.6 L481.1,116.6 L483.4,116.6 L485.6,119.0 L487.8,116.6 L490.1,116.6 L492.3,119.0 L494.5,121.5 L496.7,121.5 L499.0,123.9 L501.2,123.9 L503.4,126.3 L505.7,128.7 L507.9,128.7 L510.1,128.7 L512.4,131.2 L514.6,131.2 L516.8,133.6 L519.0,138.5 L521.3,140.9 L523.5,140.9 L525.7,143.3 L528.0,145.7 L530.2,148.2 L532.4,150.6 L534.6,153.0 L536.9,155.4 L539.1,157.9 L541.3,160.3 L543.6,162.7 L545.8,165.2 L548.0,167.6 L550.3,170.0 L552.5,172.4 L554.7,174.9 L557.0,177.3 L559.2,182.2 L561.4,184.6 L563.6,187.0 L565.9,189.4 L568.1,191.9 L570.3,196.7 L572.6,196.7 L574.8,199.1 L577.0,204.0 L579.2,208.9 L581.5,211.3 L583.7,213.7 L585.9,216.1 L588.2,221.0 L590.4,225.9 L592.6,225.9 L594.9,230.7 L597.1,233.1 L599.3,238.0 L601.5,240.4 L603.8,242.8 L606.0,242.8 L608.2,247.7 L610.5,250.1 L612.7,252.6 L614.9,255.0 L617.2,257.4 L619.4,262.3 L621.6,264.7 L623.9,264.7 L626.1,269.6 L628.3,269.6 L630.5,272.0 L632.8,276.8 L635.0,279.3 L637.2,281.7 L639.5,284.1 L641.7,286.5 L643.9,289.0 L646.1,291.4 L648.4,291.4 L650.6,293.8 L652.8,296.3 L655.1,298.7 L657.3,301.1 L659.5,303.5 L661.8,303.5 L664.0,308.4 L666.2,310.8 L668.5,310.8 L670.7,310.8 L672.9,310.8 L675.1,313.3 L677.4,315.7 L679.6,315.7 L681.8,318.1 L684.1,318.1 L686.3,320.5 L688.5,320.5 L690.8,323.0 L693.0,323.0 L695.2,323.0 L697.4,320.5 L699.7,325.4 L701.9,323.0 L704.1,325.4 L706.4,325.4 L708.6,327.8 L710.8,327.8 L713.0,327.8 L715.3,330.2 L717.5,330.2 L719.7,330.2 L722.0,330.2 L724.2,330.2 L726.4,330.2 L728.7,335.1 L730.9,332.7 L733.1,332.7 L735.4,335.1 L737.6,335.1 L739.8,335.1 L742.0,335.1 L744.3,335.1 L746.5,335.1 L748.7,335.1 L751.0,335.1 L753.2,337.5 L755.4,337.5 L757.6,337.5 L759.9,340.0 L762.1,342.4 L764.3,340.0 L766.6,340.0 L768.8,342.4 L771.0,342.4 L773.3,344.8 L775.5,344.8 L777.7,344.8 L780.0,344.8 L782.2,347.2 L784.4,347.2 L786.6,347.2 L788.9,349.7 L791.1,349.7 L793.3,349.7 L795.6,349.7 L797.8,349.7 L800.0,352.1 L802.2,352.1 L804.5,354.5 L806.7,354.5 L808.9,354.5 L811.2,357.0 L813.4,357.0 L815.6,359.4 L817.9,359.4 L820.1,361.8 L822.3,361.8 L824.5,361.8 L826.8,364.2 L829.0,361.8 L831.2,366.7 L833.5,364.2 L835.7,369.1 L837.9,366.7 L840.2,366.7 L842.4,369.1 L844.6,369.1 L846.9,369.1 L849.1,369.1 L851.3,371.5 L853.5,371.5 L855.8,371.5 L858.0,373.9 L860.2,373.9 L862.5,371.5 L864.7,371.5 L866.9,373.9 L869.1,373.9 L871.4,373.9 L873.6,373.9 L875.8,373.9 L878.1,376.4 L880.3,378.8 L882.5,378.8 L884.8,378.8 L887.0,381.2 L889.2,378.8 L891.5,381.2 L893.7,383.7 L895.9,383.7 L898.1,381.2 L900.4,381.2 L902.6,386.1 L904.8,383.7 L907.1,386.1 L909.3,386.1 L911.5,383.7 L913.8,386.1 L916.0,386.1 L918.2,390.9 L920.4,386.1 L922.7,386.1 L924.9,388.5 L927.1,388.5 L929.4,388.5 L931.6,386.1 L933.8,388.5 L936.0,388.5 L938.3,388.5 L940.5,390.9 L942.7,390.9 L945.0,390.9 L947.2,393.4 L949.4,393.4 L951.7,390.9 L953.9,390.9 L956.1,393.4 L958.4,395.8 L960.6,393.4 L962.8,393.4 L965.0,395.8 L967.3,395.8 L969.5,398.2"/>
</g>
<g font-family="'Liberation Sans', sans-serif" fill="#000">
<text y="32.3" font-size="18.6" font-weight="bold"><tspan x="206.8" textLength="88.9" lengthAdjust="spacingAndGlyphs">Bradford</tspan> <tspan x="300.6" textLength="80.4" lengthAdjust="spacingAndGlyphs">Analysis</tspan> <tspan x="387.2" textLength="19.4" lengthAdjust="spacingAndGlyphs">of</tspan> <tspan x="413.0" textLength="81.5" lengthAdjust="spacingAndGlyphs">Dialysis,</tspan> <tspan x="499.6" textLength="24.1" lengthAdjust="spacingAndGlyphs">KI,</tspan> <tspan x="529.2" textLength="42.0" lengthAdjust="spacingAndGlyphs">MW</tspan> <tspan x="579.0" textLength="53.4" lengthAdjust="spacingAndGlyphs">3500,</tspan> <tspan x="639.6" textLength="82.4" lengthAdjust="spacingAndGlyphs">Baseline</tspan> <tspan x="727.8" textLength="105.8" lengthAdjust="spacingAndGlyphs">Corrected,</tspan> <tspan x="837.4" textLength="91.8" lengthAdjust="spacingAndGlyphs">10/14/14</tspan></text>
<g font-size="11.8" text-anchor="end">
<text x="65.8" y="60.20" textLength="23.6" lengthAdjust="spacingAndGlyphs">0.14</text>
<text x="65.8" y="108.76" textLength="23.6" lengthAdjust="spacingAndGlyphs">0.12</text>
<text x="65.8" y="157.32" textLength="16.9" lengthAdjust="spacingAndGlyphs">0.1</text>
<text x="65.8" y="205.88" textLength="23.6" lengthAdjust="spacingAndGlyphs">0.08</text>
<text x="65.8" y="254.44" textLength="23.6" lengthAdjust="spacingAndGlyphs">0.06</text>
<text x="65.8" y="303.00" textLength="23.6" lengthAdjust="spacingAndGlyphs">0.04</text>
<text x="65.8" y="351.56" textLength="23.6" lengthAdjust="spacingAndGlyphs">0.02</text>
<text x="65.2" y="400.12">0</text>
<text x="64.8" y="448.68" textLength="27.7" lengthAdjust="spacingAndGlyphs">-0.02</text>
<text x="64.8" y="497.24" textLength="27.7" lengthAdjust="spacingAndGlyphs">-0.04</text>
</g>
<g font-size="11.8" text-anchor="middle">
<text x="78.2" y="417.3" textLength="20.6" lengthAdjust="spacingAndGlyphs">400</text>
<text x="189.2" y="417.3" textLength="20.6" lengthAdjust="spacingAndGlyphs">450</text>
<text x="301.2" y="417.3" textLength="20.6" lengthAdjust="spacingAndGlyphs">500</text>
<text x="412.2" y="417.3" textLength="20.6" lengthAdjust="spacingAndGlyphs">550</text>
<text x="524.2" y="417.3" textLength="20.6" lengthAdjust="spacingAndGlyphs">600</text>
<text x="635.2" y="417.3" textLength="20.6" lengthAdjust="spacingAndGlyphs">650</text>
<text x="747.2" y="417.3" textLength="20.6" lengthAdjust="spacingAndGlyphs">700</text>
<text x="858.2" y="417.3" textLength="20.6" lengthAdjust="spacingAndGlyphs">750</text>
<text x="970.2" y="417.3" textLength="20.6" lengthAdjust="spacingAndGlyphs">800</text>
</g>
<text x="476.1" y="507.8" font-size="12.2" font-weight="bold" textLength="95.6" lengthAdjust="spacingAndGlyphs">Wavelength (nm)</text>
<text transform="translate(30.2,306.8) rotate(-90)" font-size="12.2" font-weight="bold" textLength="62.8" lengthAdjust="spacingAndGlyphs">Absorbance</text>
</g>
<g font-family="'Liberation Sans', sans-serif" font-size="11.8" fill="#000">
<line x1="1000.5" y1="224.5" x2="1025.5" y2="224.5" stroke="#4572A7" stroke-width="3" stroke-linecap="round"/>
<text x="1029.2" y="228.8" textLength="91.3" lengthAdjust="spacingAndGlyphs">0.6 g/L Lysozyme</text>
<line x1="1000.5" y1="248.6" x2="1025.5" y2="248.6" stroke="#AA4643" stroke-width="3" stroke-linecap="round"/>
<text x="1029.2" y="252.9" textLength="45.0" lengthAdjust="spacingAndGlyphs">2 mM KI</text>
<line x1="1000.5" y1="272.7" x2="1025.5" y2="272.7" stroke="#89A54E" stroke-width="3" stroke-linecap="round"/>
<text x="1029.2" y="277.0" textLength="45.0" lengthAdjust="spacingAndGlyphs">5 mM KI</text>
<line x1="1000.5" y1="296.8" x2="1025.5" y2="296.8" stroke="#71588F" stroke-width="3" stroke-linecap="round"/>
<text x="1029.2" y="301.1" textLength="52.2" lengthAdjust="spacingAndGlyphs">10 mM KI</text>
<line x1="1000.5" y1="320.9" x2="1025.5" y2="320.9" stroke="#4198AF" stroke-width="3" stroke-linecap="round"/>
<text x="1029.2" y="325.2" textLength="52.2" lengthAdjust="spacingAndGlyphs">25 mM KI</text>
<line x1="1000.5" y1="345.0" x2="1025.5" y2="345.0" stroke="#DB843D" stroke-width="3" stroke-linecap="round"/>
<text x="1029.2" y="349.3" textLength="52.2" lengthAdjust="spacingAndGlyphs">50 mM KI</text>
</g>
</svg>
</body></html>
